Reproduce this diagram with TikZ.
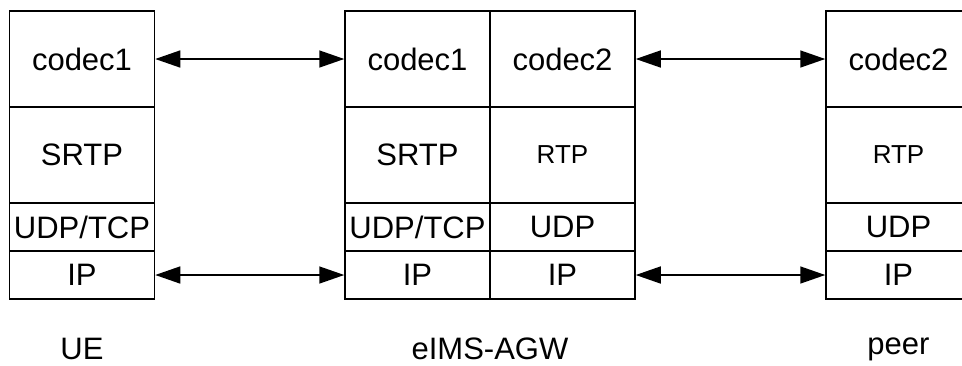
\documentclass[tikz,border=0pt]{standalone}
\usepackage{fontspec}
\setmainfont{Liberation Sans}
\usetikzlibrary{arrows.meta}

\begin{document}
\begin{tikzpicture}[
  x=0.5pt, y=-0.5pt,
  cell/.style={rectangle, draw, line width=0.75pt, inner sep=0pt, minimum width=72.5pt, font=\fontsize{15.5}{18}\selectfont},
  tall/.style={cell, minimum height=48pt},
  thin/.style={cell, minimum height=24pt},
  small/.style={font=\fontsize{13}{16}\selectfont},
  link/.style={line width=0.75pt, {Triangle[length=12.5pt,width=8.5pt]}-{Triangle[length=12.5pt,width=8.5pt]}},
  caption/.style={font=\fontsize{15.5}{18}\selectfont}
]
\useasboundingbox (0,0) rectangle (962,365);

% UE stack
\node[tall] (ueCodec) at (82,59) {codec1};
\node[tall] (ueSrtp) at (82,155) {SRTP};
\node[thin] (ueUdp) at (82,227) {UDP/TCP};
\node[thin] (ueIp) at (82,275) {IP};

% eIMS-AGW stack, UE side
\node[tall] (gwCodecA) at (417.5,59) {codec1};
\node[tall] (gwSrtp) at (417.5,155) {SRTP};
\node[thin] (gwUdpA) at (417.5,227) {UDP/TCP};
\node[thin] (gwIpA) at (417.5,275) {IP};

% eIMS-AGW stack, peer side
\node[tall] (gwCodecB) at (562.5,59) {codec2};
\node[tall, small] (gwRtp) at (562.5,155) {RTP};
\node[thin] (gwUdpB) at (562.5,227) {UDP};
\node[thin] (gwIpB) at (562.5,275) {IP};

% peer stack
\node[tall] (peerCodec) at (898.5,59) {codec2};
\node[tall, small] (peerRtp) at (898.5,155) {RTP};
\node[thin] (peerUdp) at (898.5,227) {UDP};
\node[thin] (peerIp) at (898.5,275) {IP};

% links
\draw[link] (ueCodec.east) -- (gwCodecA.west);
\draw[link] (ueIp.east) -- (gwIpA.west);
\draw[link] (gwCodecB.east) -- (peerCodec.west);
\draw[link] (gwIpB.east) -- (peerIp.west);

% captions
\node[caption] (ueName) at (82,349) {UE};
\node[caption] (gwName) at (490,349) {eIMS-AGW};
\node[caption] (peerName) at (898.5,349) {peer};
\end{tikzpicture}
\end{document}
